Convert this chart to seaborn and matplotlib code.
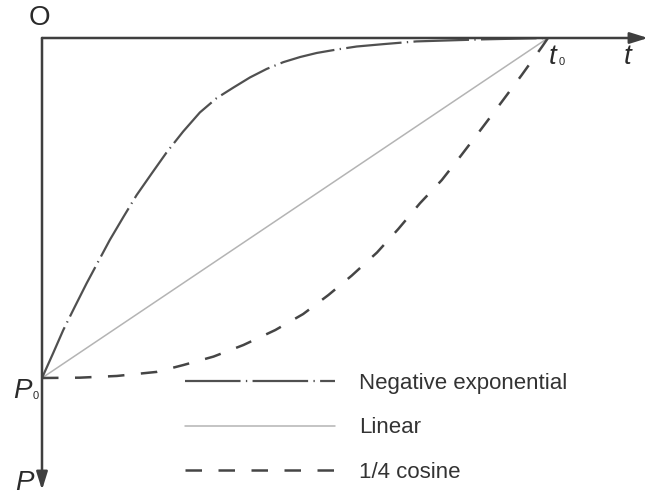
import matplotlib
matplotlib.use("Agg")
import matplotlib.pyplot as plt
import seaborn as sns

# Normalised time t/t0 and load P/P0 (P grows downward from the t axis)
t_exp = [0.0, 0.022, 0.042, 0.065, 0.088, 0.111, 0.134, 0.161, 0.187, 0.217,
         0.246, 0.279, 0.312, 0.345, 0.378, 0.411, 0.444, 0.477, 0.510, 0.543,
         0.582, 0.622, 0.675, 0.740, 0.806, 0.872, 0.935, 1.0]
p_exp = [1.0, 0.927, 0.859, 0.790, 0.722, 0.658, 0.594, 0.526, 0.462, 0.398,
         0.337, 0.275, 0.219, 0.177, 0.146, 0.116, 0.091, 0.071, 0.056, 0.044,
         0.034, 0.025, 0.018, 0.010, 0.007, 0.004, 0.002, 0.0]

t_lin = [0.0, 1.0]
p_lin = [1.0, 0.0]

t_cos = [0.0, 0.075, 0.148, 0.227, 0.279, 0.339, 0.398, 0.461, 0.516, 0.566,
         0.612, 0.662, 0.704, 0.747, 0.790, 0.829, 0.869, 0.909, 0.948, 0.988,
         1.0]
p_cos = [1.0, 0.999, 0.994, 0.982, 0.962, 0.937, 0.903, 0.859, 0.812, 0.756,
         0.699, 0.631, 0.562, 0.486, 0.418, 0.344, 0.266, 0.187, 0.109, 0.026,
         0.0]

series_names = ["Negative exponential", "Linear", "1/4 cosine"]

sns.set_theme(style="white")
plt.rcParams["font.family"] = ["Liberation Sans", "DejaVu Sans"]

W, H = 653, 497
fig = plt.figure(figsize=(W / 100, H / 100), dpi=100)
ax = fig.add_axes([42 / W, 1 - 490 / H, 606 / W, 452 / H])
ax.set_xlim(0, 606 / 506)
ax.set_ylim(452 / 340, 0)
ax.axis("off")

axis_col = "#3f3f3f"

# Curves
sns.lineplot(x=t_exp, y=p_exp, ax=ax, color="#505050", lw=1.6,
             linestyle=(0, (25, 2.4, 0.6, 2.4)), label=series_names[0],
             clip_on=False, zorder=3)
sns.lineplot(x=t_lin, y=p_lin, ax=ax, color="#b4b4b4", lw=1.1,
             label=series_names[1], clip_on=False, zorder=2)
sns.lineplot(x=t_cos, y=p_cos, ax=ax, color="#454545", lw=1.8,
             linestyle=(0, (6.6, 6.6)), label=series_names[2],
             clip_on=False, zorder=3)

# Axes with arrowheads
arrow = dict(arrowstyle="-|>,head_length=0.9,head_width=0.28",
             color=axis_col, lw=1.8, shrinkA=0, shrinkB=0)
ax.annotate("", xy=(606 / 506, 0), xytext=(0, 0), arrowprops=arrow,
            annotation_clip=False)
ax.annotate("", xy=(0, 452 / 340), xytext=(0, 0), arrowprops=arrow,
            annotation_clip=False)


def px(x, y):
    return (x - 42) / 506, (y - 38) / 340


lab = dict(color="#2a2a2a", fontsize=20, clip_on=False)
sub = dict(color="#2a2a2a", fontsize=8, clip_on=False)
ax.text(*px(39, 18), "O", ha="center", va="center", **lab)
ax.text(*px(628, 57), "t", ha="center", va="center", style="italic", **lab)
ax.text(*px(553, 57), "t", ha="center", va="center", style="italic", **lab)
ax.text(*px(562, 62), "0", ha="center", va="center", **sub)
ax.text(*px(22, 391), "P", ha="center", va="center", style="italic", **lab)
ax.text(*px(36, 396), "0", ha="center", va="center", **sub)
ax.text(*px(24, 483), "P", ha="center", va="center", style="italic", **lab)

ax.legend(loc="upper left", bbox_to_anchor=(185 / W, 1 - 373 / H),
          bbox_transform=fig.transFigure, frameon=False, fontsize=16,
          handlelength=6.75, handletextpad=1.1, labelspacing=1.05,
          borderpad=0, borderaxespad=0, labelcolor="#333333")

fig.savefig("out.png", dpi=100, facecolor="white")
